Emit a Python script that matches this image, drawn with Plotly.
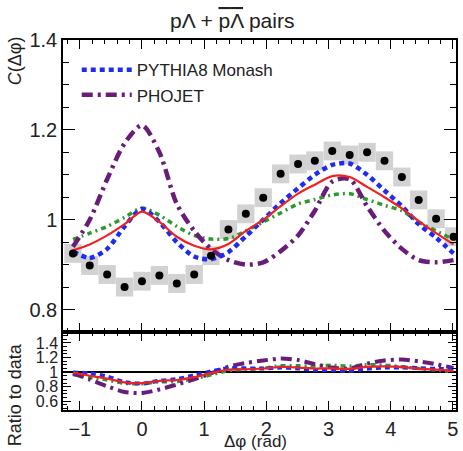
import plotly.graph_objects as go

# ---------------- data ----------------
dphi = [-1.11, -0.84, -0.56, -0.28, 0.00, 0.28, 0.56, 0.84, 1.11, 1.39, 1.67, 1.95,
        2.23, 2.51, 2.78, 3.06, 3.34, 3.62, 3.90, 4.18, 4.45, 4.73, 5.01]

data_c = [0.925, 0.898, 0.878, 0.850, 0.863, 0.876, 0.858, 0.878, 0.920, 0.978, 1.013, 1.049,
          1.102, 1.124, 1.131, 1.153, 1.144, 1.150, 1.131, 1.095, 1.044, 1.002, 0.962]
data_sys = [0.021, 0.021, 0.021, 0.021, 0.021, 0.021, 0.021, 0.021, 0.021, 0.021, 0.021, 0.021,
            0.021, 0.021, 0.021, 0.021, 0.021, 0.021, 0.021, 0.021, 0.021, 0.021, 0.021]

pythia8 = [0.929, 0.915, 0.935, 0.985, 1.024, 0.995, 0.950, 0.918, 0.912, 0.928, 0.963, 1.000,
           1.037, 1.070, 1.100, 1.122, 1.125, 1.100, 1.065, 1.030, 0.990, 0.960, 0.925]
phojet = [0.940, 1.000, 1.090, 1.170, 1.210, 1.150, 1.035, 0.975, 0.935, 0.910, 0.900, 0.905,
          0.930, 0.965, 1.020, 1.085, 1.090, 1.030, 0.975, 0.935, 0.910, 0.905, 0.910]
model_red = [0.932, 0.945, 0.965, 0.990, 1.018, 0.995, 0.962, 0.942, 0.934, 0.946, 0.975, 1.000,
             1.030, 1.058, 1.078, 1.097, 1.095, 1.073, 1.050, 1.025, 0.997, 0.970, 0.945]
model_green = [0.956, 0.970, 0.985, 1.005, 1.026, 1.010, 0.985, 0.965, 0.957, 0.958, 0.975, 0.995,
               1.015, 1.035, 1.045, 1.055, 1.058, 1.045, 1.032, 1.020, 0.995, 0.975, 0.956]

bin_width = 0.278

# ---------------- styles ----------------
BLUE = "#1f2bef"
PURPLE = "#6a1d78"
RED = "#ee2222"
GREEN = "#2e9a2e"
FONT = "Liberation Sans, Arial, Helvetica, sans-serif"

styles = {
    "PYTHIA8 Monash": dict(y=pythia8, color=BLUE, dash="5px,4px", width=4.5, legend=True, rank=1),
    "PHOJET": dict(y=phojet, color=PURPLE, dash="11px,5px,3px,5px", width=4.5, legend=True, rank=2),
    "model red": dict(y=model_red, color=RED, dash="solid", width=2.2, legend=False, rank=3),
    "model green": dict(y=model_green, color=GREEN, dash="5px,4px,2px,4px", width=3.5, legend=False, rank=4),
}
order = ["model green", "PHOJET", "PYTHIA8 Monash", "model red"]

fig = go.Figure()

# systematic boxes
fig.add_trace(go.Bar(
    x=dphi, y=[2 * s for s in data_sys], base=[c - s for c, s in zip(data_c, data_sys)],
    width=bin_width, marker=dict(color="#d2d2d2", line=dict(width=0)),
    showlegend=False, xaxis="x", yaxis="y", hoverinfo="skip"))

# model curves (top panel)
for name in order:
    st = styles[name]
    fig.add_trace(go.Scatter(
        x=dphi, y=st["y"], mode="lines", name=name, legendrank=st["rank"],
        line=dict(color=st["color"], dash=st["dash"], width=st["width"], shape="spline", smoothing=0.8),
        showlegend=st["legend"], xaxis="x", yaxis="y"))

# data points
fig.add_trace(go.Scatter(
    x=dphi, y=data_c, mode="markers", marker=dict(color="black", size=8),
    showlegend=False, xaxis="x", yaxis="y"))

# ratio panel
for name in order:
    st = styles[name]
    ratio = [d / m for d, m in zip(data_c, st["y"])]
    fig.add_trace(go.Scatter(
        x=dphi, y=ratio, mode="lines", name=name,
        line=dict(color=st["color"], dash=st["dash"], width=min(st["width"], 4), shape="spline", smoothing=0.8),
        showlegend=False, xaxis="x2", yaxis="y2"))

split = 78 / 370
xr = [-1.27, 5.05]
common_axis = dict(showline=True, linecolor="black", linewidth=1.5, mirror="ticks",
                   ticks="inside", tickcolor="black", showgrid=False, zeroline=False)
big_font = dict(family=FONT, size=20, color="#222")
small_font = dict(family=FONT, size=16, color="#222")

ovl = "<span style='text-decoration:overline'>{}</span>"
title_text = "p\u039b + " + ovl.format("p") + ovl.format("\u039b") + " pairs"

fig.update_layout(
    width=463, height=451, autosize=False,
    margin=dict(l=63, r=5, t=40, b=41),
    paper_bgcolor="white", plot_bgcolor="white",
    barmode="overlay",
    font=dict(family=FONT, color="#222"),
    xaxis=dict(domain=[0, 1], anchor="y", range=xr, tick0=0, dtick=1, ticklen=9,
               showticklabels=False, tickfont=big_font,
               minor=dict(dtick=0.2, ticks="inside", ticklen=4, tickcolor="black"),
               **common_axis),
    yaxis=dict(domain=[split, 1], anchor="x", range=[0.75, 1.4], tick0=0.8, dtick=0.2, ticklen=12,
               tickfont=big_font,
               minor=dict(dtick=0.05, ticks="inside", ticklen=6, tickcolor="black"),
               **common_axis),
    xaxis2=dict(domain=[0, 1], anchor="y2", range=xr, tick0=0, dtick=1, ticklen=9,
                tickfont=big_font,
                minor=dict(dtick=0.2, ticks="inside", ticklen=4, tickcolor="black"),
                **common_axis),
    yaxis2=dict(domain=[0, split], anchor="x2", range=[0.48, 1.55], tick0=0.6, dtick=0.2, ticklen=8,
                tickfont=small_font,
                minor=dict(dtick=0.05, ticks="inside", ticklen=4, tickcolor="black"),
                **common_axis),
    legend=dict(x=0.035, y=0.967, xanchor="left", yanchor="top", bgcolor="rgba(0,0,0,0)",
                font=dict(family=FONT, size=17, color="#222"), itemwidth=50, tracegroupgap=0),
    shapes=[dict(type="line", xref="x2 domain", yref="y2", x0=0, x1=1, y0=1, y1=1,
                 line=dict(color="black", width=2), layer="below")],
    annotations=[
        dict(text=title_text, xref="paper", yref="paper", x=0.43, y=1.052,
             xanchor="center", yanchor="middle",
             showarrow=False, font=dict(family=FONT, size=21, color="#222")),
        dict(text="<i>C</i>(\u0394\u03c6)", xref="paper", yref="paper", x=-0.122, y=0.943,
             xanchor="center", yanchor="middle",
             textangle=-90, showarrow=False, font=dict(family=FONT, size=18, color="#222")),
        dict(text="Ratio to data", xref="paper", yref="paper", x=-0.122, y=0.04,
             xanchor="center", yanchor="middle",
             textangle=-90, showarrow=False, font=dict(family=FONT, size=18, color="#222")),
        dict(text="\u0394\u03c6 (rad)", xref="paper", yref="paper", x=0.49, y=-0.086,
             xanchor="center", yanchor="middle",
             showarrow=False, font=dict(family=FONT, size=17, color="#222")),
    ],
)

fig.write_html("out.html", config={"displayModeBar": False},
               post_script="document.body.style.margin='0px';")
